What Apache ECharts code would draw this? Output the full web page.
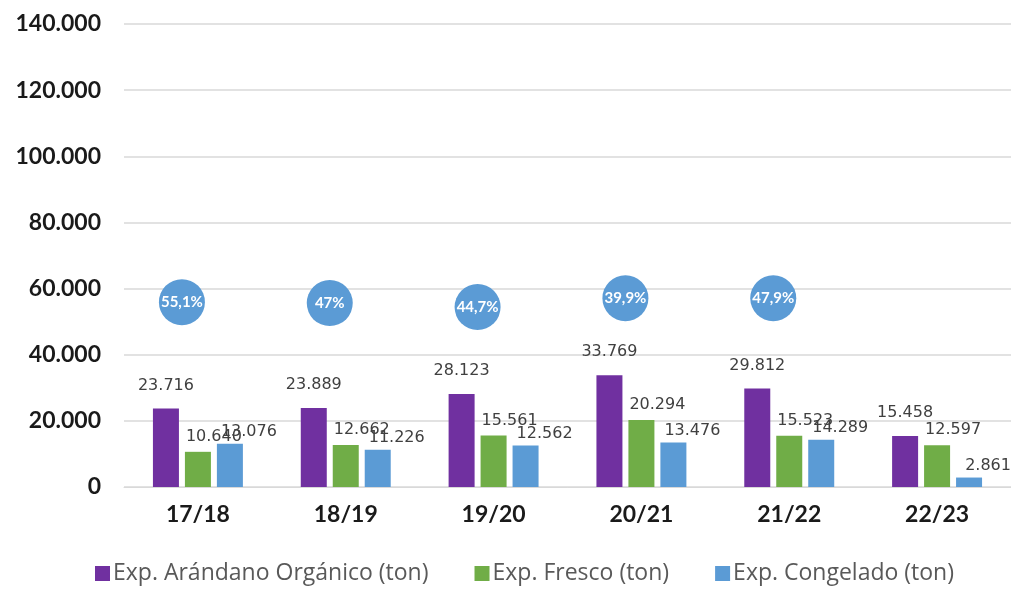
<!DOCTYPE html>
<html>
<head>
<meta charset="utf-8">
<script src="https://cdn.jsdelivr.net/npm/echarts@6/dist/echarts.min.js"></script>
<style>
  html, body { margin: 0; padding: 0; background: #fff; }
  #main { width: 1011px; height: 592px; }
</style>
</head>
<body>
<div id="main"></div>
<script>
// seasons
var seasons = ['17/18', '18/19', '19/20', '20/21', '21/22', '22/23'];
// export volumes (ton)
var organico = [23716, 23889, 28123, 33769, 29812, 15458];
var fresco = [10640, 12662, 15561, 20294, 15523, 12597];
var congelado = [13076, 11226, 12562, 13476, 14289, 2861];
// share bubbles (position, label text)
var shareY = [55900, 55600, 54400, 57100, 57100, null];
var shareText = ['55,1%', '47%', '44,7%', '39,9%', '47,9%', ''];

var fmt = function (v) {
    return String(v).replace(/\B(?=(\d{3})+(?!\d))/g, '.');
};

var chart = echarts.init(document.getElementById('main'));

var labelStyle = {
    show: true,
    position: 'top',
    fontFamily: 'DejaVu Sans',
    fontSize: 16,
    color: '#404040',
    formatter: function (p) { return fmt(p.value); }
};

var option = {
    animation: false,
    grid: { left: 124, right: 0, top: 24, bottom: 105 },
    legend: {
        bottom: 2,
        left: 90,
        itemWidth: 15,
        itemHeight: 15,
        itemGap: 46,
        icon: 'rect',
        textStyle: { fontFamily: 'Open Sans', fontSize: 23, color: '#595959', padding: [0, 0, 0, -2] },
        data: ['Exp. Arándano Orgánico (ton)', 'Exp. Fresco (ton)', 'Exp. Congelado (ton)']
    },
    xAxis: {
        type: 'category',
        data: seasons,
        axisLine: { show: true, lineStyle: { color: '#D9D9D9' } },
        axisTick: { show: false },
        axisLabel: {
            fontFamily: 'Lato', fontWeight: 'bold', fontSize: 23, color: '#1a1a1a', margin: 16
        }
    },
    yAxis: {
        type: 'value',
        min: 0,
        max: 140000,
        interval: 20000,
        axisLine: { show: false },
        axisTick: { show: false },
        splitLine: { lineStyle: { color: '#D9D9D9', width: 1.5 } },
        axisLabel: {
            fontFamily: 'Lato', fontWeight: 'bold', fontSize: 23, color: '#1a1a1a', margin: 23,
            formatter: function (v) { return fmt(v); }
        }
    },
    series: [
        {
            name: 'Exp. Arándano Orgánico (ton)',
            type: 'bar',
            data: organico,
            barWidth: 26,
            barGap: '23%',
            itemStyle: { color: '#7030A0' },
            label: Object.assign({}, labelStyle, { distance: 15 })
        },
        {
            name: 'Exp. Fresco (ton)',
            type: 'bar',
            data: fresco,
            barWidth: 26,
            barGap: '23%',
            itemStyle: { color: '#70AD47' },
            label: Object.assign({}, labelStyle, { distance: 7, offset: [16, 0] })
        },
        {
            name: 'Exp. Congelado (ton)',
            type: 'bar',
            data: congelado,
            barWidth: 26,
            barGap: '23%',
            itemStyle: { color: '#5B9BD5' },
            label: Object.assign({}, labelStyle, { distance: 4, offset: [19, 0] })
        },
        {
            name: 'share',
            type: 'scatter',
            data: shareY,
            symbolSize: 46,
            symbolOffset: [-16, 0],
            itemStyle: { color: '#5B9BD5', opacity: 1 },
            label: {
                show: true,
                position: 'inside',
                fontFamily: 'Lato',
                fontWeight: 'bold',
                fontSize: 15,
                color: '#ffffff',
                formatter: function (p) { return shareText[p.dataIndex]; }
            },
            z: 5
        }
    ]
};

chart.setOption(option);
</script>
</body>
</html>
